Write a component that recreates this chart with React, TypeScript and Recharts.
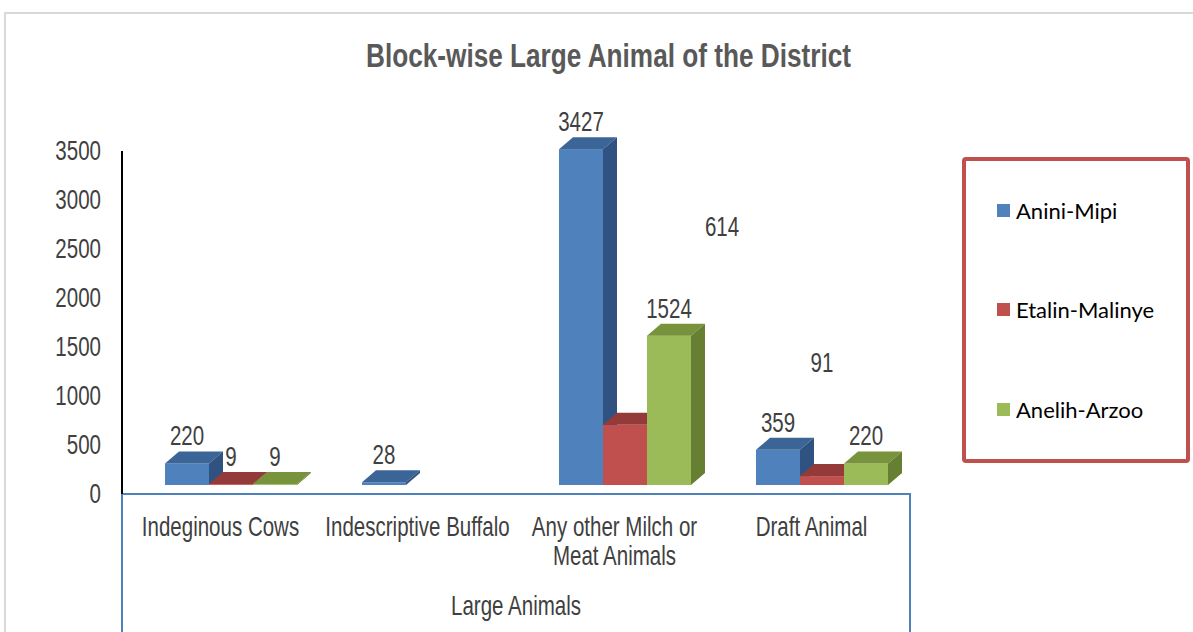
import { BarChart, Bar, XAxis, YAxis, Legend, LabelList } from "recharts";

const categories = [
  "Indeginous Cows",
  "Indescriptive Buffalo",
  "Any other Milch or\nMeat Animals",
  "Draft Animal",
];
const aniniMipi = [220, 28, 3427, 359];
const etalinMalinye = [9, null, 614, 91];
const anelihArzoo = [9, null, 1524, 220];
const yTicks = [0, 500, 1000, 1500, 2000, 2500, 3000, 3500];

const data = categories.map((name, i) => ({
  name,
  "Anini-Mipi": aniniMipi[i],
  "Etalin-Malinye": etalinMalinye[i],
  "Anelih-Arzoo": anelihArzoo[i],
}));

const FONT = "'Liberation Sans', Arial, sans-serif";
const TEXT = "#404040";
const SQUEEZE = 0.76; // arial narrow look

// fake 3d: front face shifted, plus top and side faces
const SHIFT_X = 10;
const SHIFT_Y = -9;
const DEPTH_X = 14;
const DEPTH_Y = 12;

const series = [
  { key: "Anini-Mipi", front: "#4f81bd", top: "#3b6497", side: "#2f5281" },
  { key: "Etalin-Malinye", front: "#c0504d", top: "#943a38", side: "#87322f" },
  { key: "Anelih-Arzoo", front: "#9bbb59", top: "#77933c", side: "#667f33" },
];

// two red labels float away from their bars in the original
const labelNudge: Record<string, [number, number]> = {
  "Etalin-Malinye-614": [97, -171],
  "Etalin-Malinye-91": [0, -86],
};

const NarrowText = ({ x, y, anchor = "middle", children }: any) => (
  <text
    transform={`translate(${x},${y}) scale(${SQUEEZE},1)`}
    textAnchor={anchor}
    fontFamily={FONT}
    fontSize={27}
    fill={TEXT}
  >
    {children}
  </text>
);

const make3DBar = (s: any) => (props: any) => {
  const { x, y, width, height } = props;
  if (x == null || y == null || !width) return null;
  const fx = x + SHIFT_X;
  const fy = y + SHIFT_Y;
  const h = Math.max(height, 0);
  const w = width;
  return (
    <g>
      <rect x={fx} y={fy} width={w} height={h} fill={s.front} />
      <polygon
        points={`${fx},${fy} ${fx + w},${fy} ${fx + w + DEPTH_X},${fy - DEPTH_Y} ${fx + DEPTH_X},${fy - DEPTH_Y}`}
        fill={s.top}
      />
      <polygon
        points={`${fx + w},${fy} ${fx + w + DEPTH_X},${fy - DEPTH_Y} ${fx + w + DEPTH_X},${fy + h - DEPTH_Y} ${fx + w},${fy + h}`}
        fill={s.side}
      />
    </g>
  );
};

const makeLabel = (key: string) => (props: any) => {
  const { x, y, width, value } = props;
  if (value == null) return null;
  const [nx, ny] = labelNudge[`${key}-${value}`] || [0, 0];
  return (
    <NarrowText x={x + SHIFT_X + width / 2 + nx} y={y + SHIFT_Y - DEPTH_Y - 6 + ny}>
      {value}
    </NarrowText>
  );
};

const YTick = (props: any) => {
  const { x, y, payload } = props;
  return (
    <NarrowText x={x} y={y + 9} anchor="end">
      {payload.value}
    </NarrowText>
  );
};

const XTick = (props: any) => {
  const { x, y, payload } = props;
  const lines = String(payload.value).split("\n");
  return (
    <g>
      {lines.map((line, i) => (
        <NarrowText key={i} x={x} y={y + 42 + i * 29}>
          {line}
        </NarrowText>
      ))}
    </g>
  );
};

const LegendBox = () => (
  <div
    style={{
      width: 228,
      height: 306,
      boxSizing: "border-box",
      border: "4px solid #c0504d",
      borderRadius: 4,
      display: "flex",
      flexDirection: "column",
      justifyContent: "space-around",
      paddingLeft: 31,
      background: "#fff",
    }}
  >
    {series.map((s) => (
      <div key={s.key} style={{ display: "flex", alignItems: "center" }}>
        <span style={{ width: 13, height: 13, background: s.front, marginRight: 6 }} />
        <span style={{ fontFamily: "Lato, 'Noto Sans', sans-serif", fontSize: 22, color: "#000" }}>
          {s.key}
        </span>
      </div>
    ))}
  </div>
);

const App = () => {
  return (
    <div
      style={{
        position: "absolute",
        left: 0,
        top: 0,
        width: 1193,
        height: 632,
        overflow: "hidden",
        background: "#fff",
      }}
    >
      <div
        style={{
          position: "absolute",
          left: 4,
          top: 12,
          width: 1220,
          height: 700,
          border: "2px solid #d9d9d9",
        }}
      />
      <svg width={1193} height={100} style={{ position: "absolute", left: 0, top: 0 }}>
        <text
          x={608.5}
          y={67}
          textAnchor="middle"
          textLength={485}
          lengthAdjust="spacingAndGlyphs"
          fontFamily={FONT}
          fontWeight="bold"
          fontSize={33}
          fill="#595959"
        >
          Block-wise Large Animal of the District
        </text>
      </svg>
      {/* box around the category axis */}
      <div
        style={{
          position: "absolute",
          left: 121,
          top: 493,
          width: 786,
          height: 200,
          borderLeft: "2px solid #4f81bd",
          borderRight: "2px solid #4f81bd",
        }}
      />
      <div style={{ position: "absolute", left: 0, top: 0 }}>
        <BarChart
          width={1193}
          height={632}
          data={data}
          margin={{ top: 151, right: 283, bottom: 0, left: 0 }}
          barSize={44}
          barGap={0}
        >
          <XAxis
            dataKey="name"
            height={138}
            tickSize={0}
            tickMargin={0}
            interval={0}
            axisLine={{ stroke: "#4f81bd", strokeWidth: 2 }}
            tick={<XTick />}
            label={{
              content: (p: any) => (
                <NarrowText x={p.viewBox.x + p.viewBox.width / 2} y={p.viewBox.y + 121}>
                  Large Animals
                </NarrowText>
              ),
            }}
          />
          <YAxis
            width={122}
            domain={[0, 3500]}
            ticks={yTicks}
            interval={0}
            tickSize={0}
            tickMargin={21}
            axisLine={{ stroke: "#000", strokeWidth: 2 }}
            tick={<YTick />}
          />
          <Legend
            layout="vertical"
            align="center"
            verticalAlign="middle"
            wrapperStyle={{ left: 962, top: 157, width: 228, height: 306 }}
            content={<LegendBox />}
          />
          {series.map((s) => (
            <Bar
              key={s.key}
              dataKey={s.key}
              fill={s.front}
              shape={make3DBar(s)}
              isAnimationActive={false}
            >
              <LabelList dataKey={s.key} content={makeLabel(s.key)} />
            </Bar>
          ))}
        </BarChart>
      </div>
    </div>
  );
};

export default App;
